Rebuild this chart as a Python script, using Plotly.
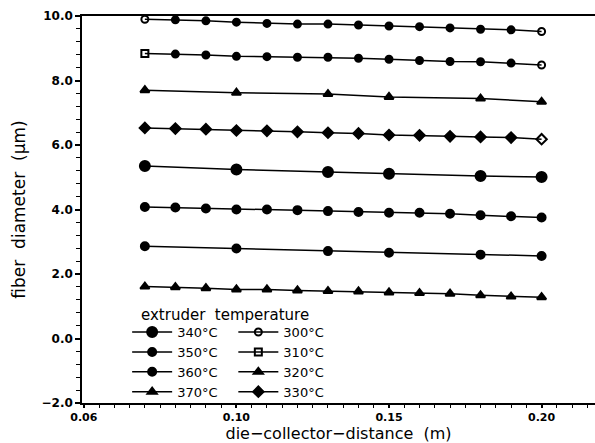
import plotly.graph_objects as go

# ---- data ----
x_full = [0.07, 0.08, 0.09, 0.10, 0.11, 0.12, 0.13, 0.14, 0.15, 0.16, 0.17, 0.18, 0.19, 0.20]
x_sparse = [0.07, 0.10, 0.13, 0.15, 0.18, 0.20]

d300 = [9.90, 9.88, 9.85, 9.81, 9.77, 9.75, 9.75, 9.72, 9.69, 9.67, 9.63, 9.59, 9.57, 9.52]
d310 = [8.84, 8.82, 8.79, 8.75, 8.74, 8.72, 8.72, 8.69, 8.66, 8.62, 8.59, 8.58, 8.54, 8.48]
d320 = [7.70, 7.62, 7.58, 7.49, 7.44, 7.34]
d330 = [6.53, 6.51, 6.49, 6.45, 6.44, 6.41, 6.38, 6.36, 6.31, 6.30, 6.27, 6.25, 6.23, 6.18]
d340 = [5.35, 5.24, 5.16, 5.11, 5.04, 5.01]
d350 = [4.08, 4.06, 4.03, 4.00, 4.00, 3.98, 3.95, 3.92, 3.90, 3.90, 3.87, 3.82, 3.79, 3.75]
d360 = [2.86, 2.79, 2.71, 2.66, 2.60, 2.56]
d370 = [1.61, 1.59, 1.56, 1.52, 1.52, 1.49, 1.47, 1.46, 1.43, 1.41, 1.39, 1.34, 1.30, 1.28]

x_ticks = [0.05, 0.10, 0.15, 0.20]
x_ticktext = ["0.06", "0.10", "0.15", "0.20"]
y_ticks = [-2, 0, 2, 4, 6, 8, 10]
y_ticktext = ["−2.0", "0.0", "2.0", "4.0", "6.0", "8.0", "10.0"]

FONT = "DejaVu Sans"
fig = go.Figure()

def sym(n, mid, first, last):
    return [first] + [mid] * (n - 2) + [last]

series = [
    ("340°C", x_sparse, d340, "circle", 10, "legend"),
    ("350°C", x_full, d350, "circle", 8, "legend"),
    ("360°C", x_sparse, d360, "circle", 8, "legend"),
    ("370°C", x_full, d370, "triangle-up", 8, "legend"),
    ("300°C", x_full, d300, sym(14, "circle", "circle-open", "circle-open"), 7, "legend2"),
    ("310°C", x_full, d310, sym(14, "circle", "square-open", "circle-open"), 7, "legend2"),
    ("320°C", x_sparse, d320, "triangle-up", 8, "legend2"),
    ("330°C", x_full, d330, sym(14, "diamond", "diamond", "diamond-open"), 8, "legend2"),
]

for name, xs, ys, s, size, lg in series:
    fig.add_trace(go.Scatter(
        x=xs, y=ys, name=name, mode="lines+markers",
        line=dict(color="black", width=1.5),
        marker=dict(symbol=s, size=size, color="black",
                    line=dict(color="black", width=2)),
        legend=lg,
    ))

fig.update_layout(
    width=595, height=443,
    margin=dict(l=82, r=0, t=16, b=40),
    paper_bgcolor="white", plot_bgcolor="white",
    font=dict(family=FONT, color="black"),
    showlegend=True,
    legend=dict(x=0.088, y=0.222, xanchor="left", yanchor="top",
                bgcolor="rgba(0,0,0,0)", font=dict(size=13, family=FONT),
                tracegroupgap=0, itemwidth=40),
    legend2=dict(x=0.295, y=0.222, xanchor="left", yanchor="top",
                 bgcolor="rgba(0,0,0,0)", font=dict(size=13, family=FONT),
                 tracegroupgap=0, itemwidth=40),
    annotations=[dict(text="extruder  temperature", xref="paper", yref="paper",
                      x=0.112, y=0.228, xanchor="left", yanchor="middle",
                      showarrow=False, font=dict(size=15, family=FONT))],
)

fig.update_xaxes(
    range=[0.0494, 0.2175], tickmode="array", tickvals=x_ticks, ticktext=x_ticktext,
    showgrid=False, zeroline=False,
    showline=True, linecolor="black", linewidth=1.5, mirror=True,
    ticks="outside", ticklen=3, tickwidth=1.5, tickcolor="black",
    tickfont=dict(size=11, family="DejaVu Sans", weight="bold"),
    minor=dict(dtick=0.005, tick0=0.05, ticks="outside", ticklen=3, tickwidth=1.2, tickcolor="black"),
    title=dict(text="die−collector−distance  (m)", font=dict(size=16, family=FONT), standoff=0),
)
fig.update_yaxes(
    range=[-2, 10], tickmode="array", tickvals=y_ticks, ticktext=y_ticktext,
    showgrid=False, zeroline=False,
    showline=True, linecolor="black", linewidth=1.5,
    ticks="outside", ticklen=5, tickwidth=1.5, tickcolor="black",
    tickfont=dict(size=12, family="DejaVu Sans", weight="bold"),
    minor=dict(dtick=0.4, tick0=0, ticks="outside", ticklen=4, tickwidth=1.2, tickcolor="black"),
    title=dict(text="fiber  diameter  (μm)", font=dict(size=17, family=FONT), standoff=12),
)

fig.write_html("out.html")
